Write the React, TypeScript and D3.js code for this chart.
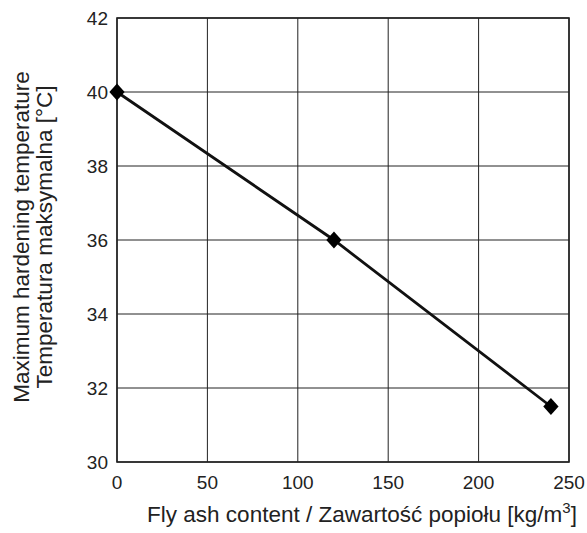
import React from "react";
import * as d3 from "d3";

const flyAsh = [0, 120, 240];
const temperature = [40, 36, 31.5];
const xTicks = [0, 50, 100, 150, 200, 250];
const yTicks = [30, 32, 34, 36, 38, 40, 42];

export default function App() {
  const W = 587, H = 533;
  const left = 117, right = 569, top = 18, bottom = 462;
  const x = d3.scaleLinear().domain([0, 250]).range([left, right]);
  const y = d3.scaleLinear().domain([30, 42]).range([bottom, top]);
  const line = d3.line<number>().x((_, i) => x(flyAsh[i])).y((d) => y(d));
  const font = "Liberation Sans, Arial, sans-serif";
  const s = 8.5;
  return (
    <svg width={W} height={H} style={{ position: "absolute", left: 0, top: 0, background: "#fff" }}>
      {xTicks.map((t) => (
        <line key={"gx" + t} x1={x(t)} x2={x(t)} y1={top} y2={bottom} stroke="#222" strokeWidth={1} />
      ))}
      {yTicks.map((t) => (
        <line key={"gy" + t} x1={left} x2={right} y1={y(t)} y2={y(t)} stroke="#222" strokeWidth={1} />
      ))}
      <rect x={left} y={top} width={right - left} height={bottom - top} fill="none" stroke="#222" strokeWidth={1.6} />
      <path d={line(temperature) || ""} fill="none" stroke="#111" strokeWidth={2.8} />
      {temperature.map((v, i) => {
        const cx = x(flyAsh[i]), cy = y(v);
        return (
          <path key={"m" + i} d={`M${cx},${cy - s}L${cx + s * 0.9},${cy}L${cx},${cy + s}L${cx - s * 0.9},${cy}Z`} fill="#000" />
        );
      })}
      {xTicks.map((t) => (
        <text key={"tx" + t} x={x(t)} y={bottom + 27} textAnchor="middle" fontFamily={font} fontSize={19} fill="#222">{t}</text>
      ))}
      {yTicks.map((t) => (
        <text key={"ty" + t} x={left - 9} y={y(t) + 7} textAnchor="end" fontFamily={font} fontSize={19} fill="#222">{t}</text>
      ))}
      <text x={362} y={522} textAnchor="middle" fontFamily={font} fontSize={22.5} fill="#222">
        Fly ash content / Zawartość popiołu [kg/m<tspan dy={-9} fontSize={15}>3</tspan><tspan dy={9}>]</tspan>
      </text>
      <text transform={`translate(29,237) rotate(-90)`} textAnchor="middle" fontFamily={font} fontSize={22.5} fill="#222">
        Maximum hardening temperature
      </text>
      <text transform={`translate(52,237) rotate(-90)`} textAnchor="middle" fontFamily={font} fontSize={22.5} fill="#222">
        Temperatura maksymalna [°C]
      </text>
    </svg>
  );
}
